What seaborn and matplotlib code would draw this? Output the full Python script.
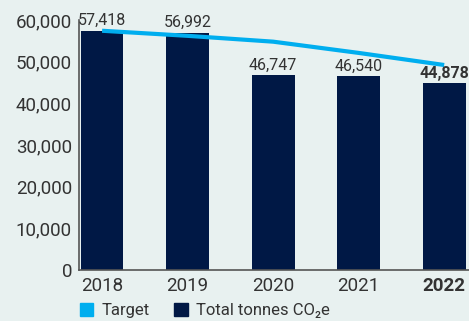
import numpy as np
import matplotlib.pyplot as plt
import matplotlib.patches as mpatches
import seaborn as sns

years = ["2018", "2019", "2020", "2021", "2022"]
totals = [57418, 56992, 46747, 46540, 44878]
target = [57418, 56200, 54800, 52100, 49200]
y_ticks = [0, 10000, 20000, 30000, 40000, 50000, 60000]

bg = "#E8F1F0"
navy = "#001845"
cyan = "#00AEEF"
text_col = "#333333"

sns.set_theme(style="white")
plt.rcParams["font.family"] = ["Roboto", "DejaVu Sans"]

fig = plt.figure(figsize=(4.69, 3.21), dpi=100, facecolor=bg)
ax = fig.add_axes([79 / 469, 1 - 270 / 321, 1 - 79 / 469, 250 / 321])
ax.set_facecolor(bg)

sns.barplot(x=years, y=totals, color=navy, width=0.5, saturation=1,
            linewidth=0, ax=ax)
sns.lineplot(x=np.arange(len(years)), y=target, color=cyan, linewidth=3,
             ax=ax, solid_capstyle="butt")

for i, v in enumerate(totals):
    bold = i == len(totals) - 1
    ax.text(i, v + 600, f"{v:,}", ha="center", va="bottom", fontsize=11.5,
            color=text_col, fontweight="bold" if bold else "normal")

ax.set_xlim(-0.27, 4.29)
ax.set_ylim(0, 60000)
ax.set_yticks(y_ticks)
ax.set_yticklabels([f"{t:,}" for t in y_ticks])
ax.tick_params(axis="both", length=0, labelsize=13.5, colors=text_col, pad=5)
for lbl in ax.get_xticklabels():
    if lbl.get_text() == "2022":
        lbl.set_fontweight("bold")
ax.set_xlabel("")
ax.set_ylabel("")

sns.despine(ax=ax, top=True, right=True)
ax.spines["left"].set_color("#555555")
ax.spines["bottom"].set_color("#555555")
ax.spines["left"].set_linewidth(1.2)
ax.spines["bottom"].set_linewidth(1.2)

handles = [mpatches.Patch(color=cyan, label="Target"),
           mpatches.Patch(color=navy, label="Total tonnes CO₂e")]
fig.legend(handles=handles, loc="lower left", bbox_to_anchor=(77 / 469, 0.0),
           ncol=2, frameon=False, fontsize=12, handlelength=0.8, handleheight=0.8,
           handletextpad=0.5, columnspacing=1.5, labelcolor=text_col,
           borderpad=0.05, borderaxespad=0.1)

fig.savefig("out.png", dpi=100, facecolor=bg)
